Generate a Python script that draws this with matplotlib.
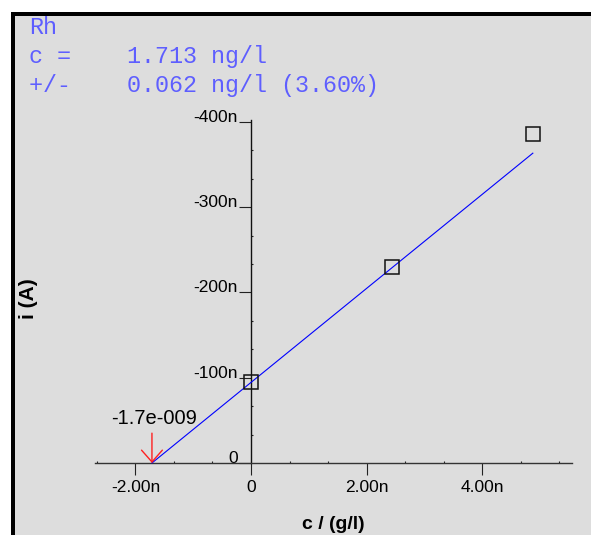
import numpy as np
import matplotlib
matplotlib.use("Agg")
import matplotlib.pyplot as plt
from matplotlib.patches import Rectangle
from matplotlib.ticker import FixedLocator, FuncFormatter, MultipleLocator

# Standard-addition data for rhodium
element = "Rh"
added_conc = [0.0, 2.45e-9, 4.88e-9]            # added concentration, g/l
current = [-94.5e-9, -229.5e-9, -386.0e-9]       # peak current, A
n_fit = 2                                        # points used in the regression
result_conc = "1.713"
result_err = "0.062"
result_rel = "3.60"

x_major = [-2e-9, 0.0, 2e-9, 4e-9]
y_major = [0.0, -100e-9, -200e-9, -300e-9, -400e-9]

W, H = 591, 535
fig = plt.figure(figsize=(W / 100, H / 100), dpi=100)
fig.patch.set_facecolor("white")


def fx(px):
    return px / W


def fy(py):
    return 1 - py / H


# panel background with heavy top/left frame
fig.patches.append(Rectangle((fx(11), 0), 1 - fx(11), fy(12), transform=fig.transFigure,
                             facecolor="black", edgecolor="none", zorder=-20))
fig.patches.append(Rectangle((fx(15), 0), 1 - fx(15), fy(16), transform=fig.transFigure,
                             facecolor="#dddddd", edgecolor="none", zorder=-10))

# axes box: x 95..572 px, y 120..463 px
ax = fig.add_axes([fx(95), fy(463), fx(572) - fx(95), fy(120) - fy(463)])
ax.set_zorder(1)
ax.set_facecolor("none")
ax.set_xlim(-2.701e-9, 5.558e-9)
ax.set_ylim(0.0, -402.3e-9)

for s in ("top", "right"):
    ax.spines[s].set_visible(False)
ax.spines["left"].set_position(("data", 0.0))
ax.spines["left"].set_linewidth(1.0)
ax.spines["bottom"].set_linewidth(1.0)
ax.spines["left"].set_color("#111111")
ax.spines["bottom"].set_color("#333333")

ax.xaxis.set_major_locator(FixedLocator(x_major))
ax.yaxis.set_major_locator(FixedLocator(y_major))
ax.xaxis.set_minor_locator(MultipleLocator(2e-9 / 3))
ax.yaxis.set_minor_locator(MultipleLocator(100e-9 / 3))


def xfmt(v, pos):
    return "0" if abs(v) < 1e-15 else f"{v * 1e9:.2f}n"


def yfmt(v, pos):
    return "0" if abs(v) < 1e-15 else f"{v * 1e9:.0f}n"


ax.xaxis.set_major_formatter(FuncFormatter(xfmt))
ax.yaxis.set_major_formatter(FuncFormatter(yfmt))

tick_font = dict(family="Liberation Sans", size=12.5)
ax.tick_params(axis="both", which="major", direction="out", length=8.6, width=0.8,
               color="#222222", labelcolor="black")
ax.tick_params(axis="x", which="major", pad=3.5)
ax.tick_params(axis="y", which="major", pad=0.7)
ax.tick_params(axis="both", which="minor", direction="in", length=1.5, width=0.8, color="#222222")
for lab in ax.get_xticklabels():
    lab.set_fontfamily(tick_font["family"])
    lab.set_fontsize(tick_font["size"])
for lab in ax.get_yticklabels():
    lab.set_fontfamily(tick_font["family"])
    lab.set_fontsize(tick_font["size"])
    lab.set_verticalalignment("baseline")

# regression over the fitted points and its x-intercept
slope, intercept = np.polyfit(added_conc[:n_fit], current[:n_fit], 1)
x0 = -intercept / slope
xs = np.array([x0, added_conc[-1]])
ax.plot(xs, slope * xs + intercept, color="#0000ff", lw=0.8, zorder=3, clip_on=False)

ax.plot(added_conc, current, linestyle="none", marker="s", markersize=9.4,
        markerfacecolor="none", markeredgecolor="#111111", markeredgewidth=1.1,
        zorder=4, clip_on=False)

# arrow marking the intercept
ax.annotate("", xy=(x0, 0.0), xytext=(x0, -35e-9),
            arrowprops=dict(arrowstyle="->,head_length=0.85,head_width=0.75",
                            color="#ff2020", lw=1.0, mutation_scale=10,
                            shrinkA=0, shrinkB=0), zorder=5, annotation_clip=False)
mant, expo = f"{x0:.1e}".split("e")
ax.annotate(f"{mant}e{int(expo):+04d}", xy=(x0, -35e-9), xytext=(2, 5),
            textcoords="offset pixels", ha="center", va="bottom",
            family="Liberation Sans", size=14.5, color="black", annotation_clip=False)

# axis titles
fig.text(fx(28), fy(299), "i (A)", rotation=90, ha="center", va="center",
         family="Liberation Sans", weight="bold", size=15)
fig.text(fx(333), fy(516), "c / (g/l)", ha="center", va="top",
         family="Liberation Sans", weight="bold", size=14)

# result block
blue = "#5e5eff"
mono = dict(family="Liberation Mono", size=16.8, color=blue, va="baseline", ha="left")
fig.text(fx(29), fy(34), element, **mono)
fig.text(fx(29), fy(63), f"c =    {result_conc} ng/l", **mono)
fig.text(fx(29), fy(92), f"+/-    {result_err} ng/l ({result_rel}%)", **mono)

fig.savefig("out.png", dpi=100, facecolor=fig.get_facecolor())
